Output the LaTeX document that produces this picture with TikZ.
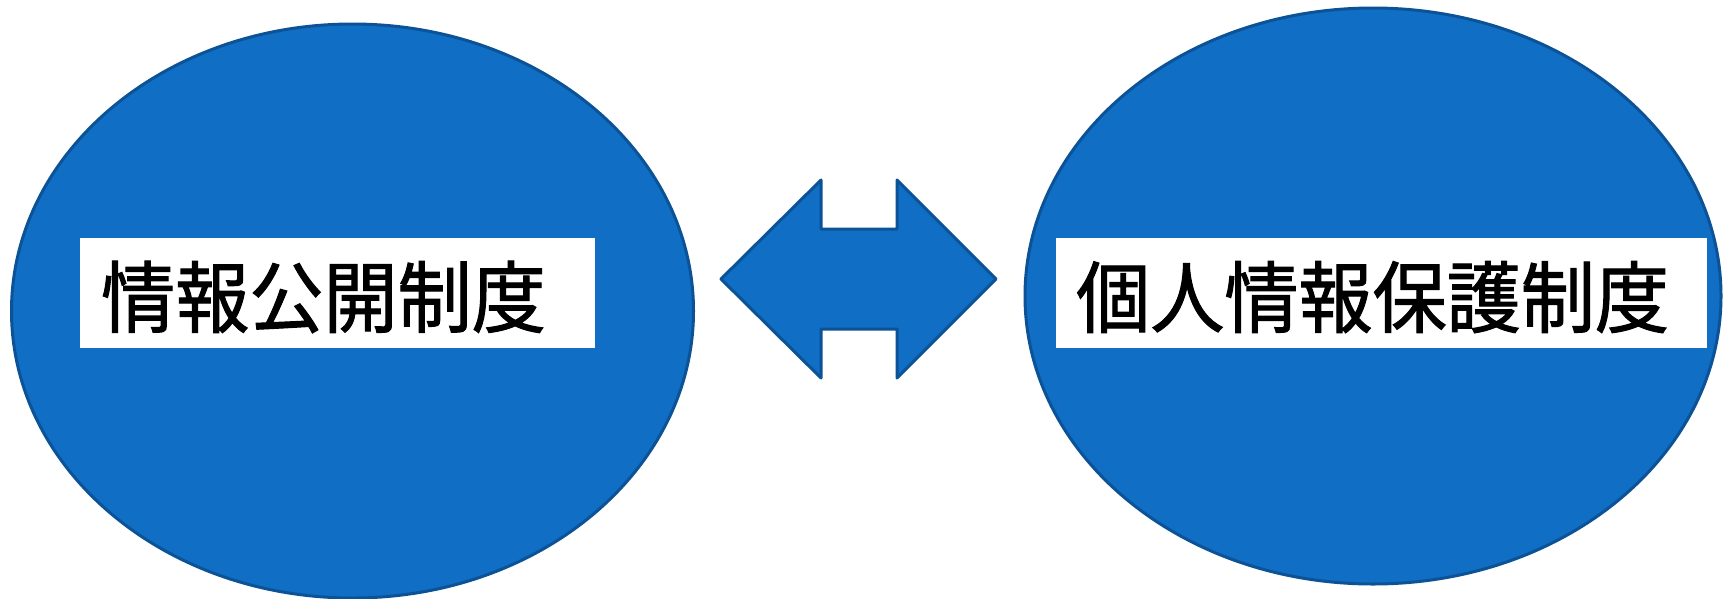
\documentclass[tikz,border=0pt]{standalone}
\usepackage{fontspec}
\newfontfamily\cjk[FakeStretch=0.95,FakeBold=1.3]{Noto Sans CJK JP}
\definecolor{blobfill}{HTML}{106EC4}
\definecolor{blobline}{HTML}{0B5396}
\tikzset{
  blob/.style={fill=blobfill, draw=blobline, line width=3pt},
  labelbox/.style={fill=white, draw=none, inner sep=0pt, anchor=north west},
  labeltext/.style={anchor=west, inner sep=0pt, font=\cjk\fontsize{78}{82}\selectfont}
}
\begin{document}
\begin{tikzpicture}[x=1pt,y=-1pt]
\useasboundingbox (0,0) rectangle (1727,598);
% ellipses
\draw[blob] (352.5,311) ellipse [x radius=341, y radius=287];
\draw[blob] (1373,296) ellipse [x radius=348, y radius=288];
% double arrow
\draw[blob, line join=round] (721,279) -- (821,180) -- (821,229) -- (897,229) -- (897,180) -- (996,279)
  -- (897,378) -- (897,329) -- (821,329) -- (821,378) -- cycle;
% label boxes
\node[labelbox, minimum width=515pt, minimum height=110pt] (lbox) at (80,238) {};
\node[labelbox, minimum width=651pt, minimum height=110pt] (rbox) at (1056,238) {};
\node[labeltext] (ltext) at (101,297) {情報公開制度};
\node[labeltext] (rtext) at (1076,297) {個人情報保護制度};
\end{tikzpicture}
\end{document}
